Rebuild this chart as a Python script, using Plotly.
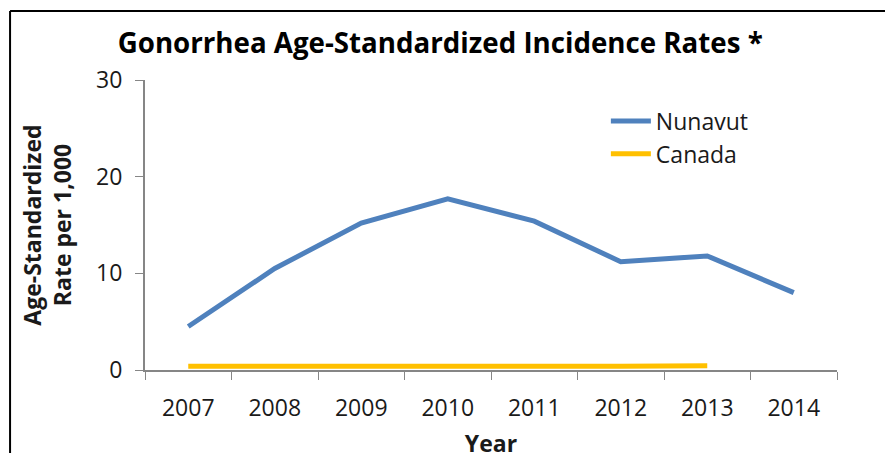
import plotly.graph_objects as go

years = ["2007", "2008", "2009", "2010", "2011", "2012", "2013", "2014"]
nunavut = [4.5, 10.5, 15.2, 17.7, 15.4, 11.2, 11.8, 8.0]
canada_years = ["2007", "2008", "2009", "2010", "2011", "2012", "2013"]
canada = [0.4, 0.4, 0.3, 0.3, 0.35, 0.4, 0.45]

FONT = "Open Sans"

fig = go.Figure()
fig.add_trace(go.Scatter(x=years, y=nunavut, mode="lines", name="Nunavut",
                         line=dict(color="#4F81BD", width=5)))
fig.add_trace(go.Scatter(x=canada_years, y=canada, mode="lines", name="Canada",
                         line=dict(color="#FFC000", width=5)))

# page body has an 8px margin, so margins are trimmed by 8 on left/top
fig.update_layout(
    width=893, height=453,
    margin=dict(l=137, r=64, t=72, b=91),
    paper_bgcolor="white", plot_bgcolor="white",
    font=dict(family=FONT, size=20, color="#1a1a1a"),
    title=dict(text="<b>Gonorrhea Age-Standardized Incidence Rates *</b>",
               x=0.484, xanchor="center", y=0.923, yanchor="middle",
               font=dict(size=27.7, color="black")),
    showlegend=True,
    legend=dict(x=0.666, y=0.933, xanchor="left", yanchor="top",
                bgcolor="rgba(0,0,0,0)", font=dict(size=23),
                tracegroupgap=0, itemwidth=40),
    xaxis=dict(type="category", categoryorder="array", categoryarray=years,
               range=[-0.5, 7.5], tickson="boundaries", ticks="outside",
               ticklen=8, tickcolor="#868686", showline=True,
               linecolor="#868686", linewidth=2, showgrid=False,
               tickfont=dict(size=23), ticklabelstandoff=16, automargin=False,
               title=dict(text="<b>Year</b>", font=dict(size=23), standoff=14)),
    yaxis=dict(range=[0, 30], tickvals=[0, 10, 20, 30], ticks="outside",
               ticklen=8, tickcolor="#868686", showline=True,
               linecolor="#868686", linewidth=2, showgrid=False,
               zeroline=False, tickfont=dict(size=23), ticklabelstandoff=8,
               automargin=False,
               title=dict(text="<b>Age-Standardized<br>Rate per 1,000</b>",
                          font=dict(size=23), standoff=18)),
)

# outer chart frame (left and top edges visible)
fig.add_shape(type="line", xref="paper", yref="paper",
              x0=-0.195, x1=-0.195, y0=-0.4, y1=1.238,
              line=dict(color="black", width=2))
fig.add_shape(type="line", xref="paper", yref="paper",
              x0=-0.195, x1=1.2, y0=1.238, y1=1.238,
              line=dict(color="black", width=2))

fig.write_html("out.html")
